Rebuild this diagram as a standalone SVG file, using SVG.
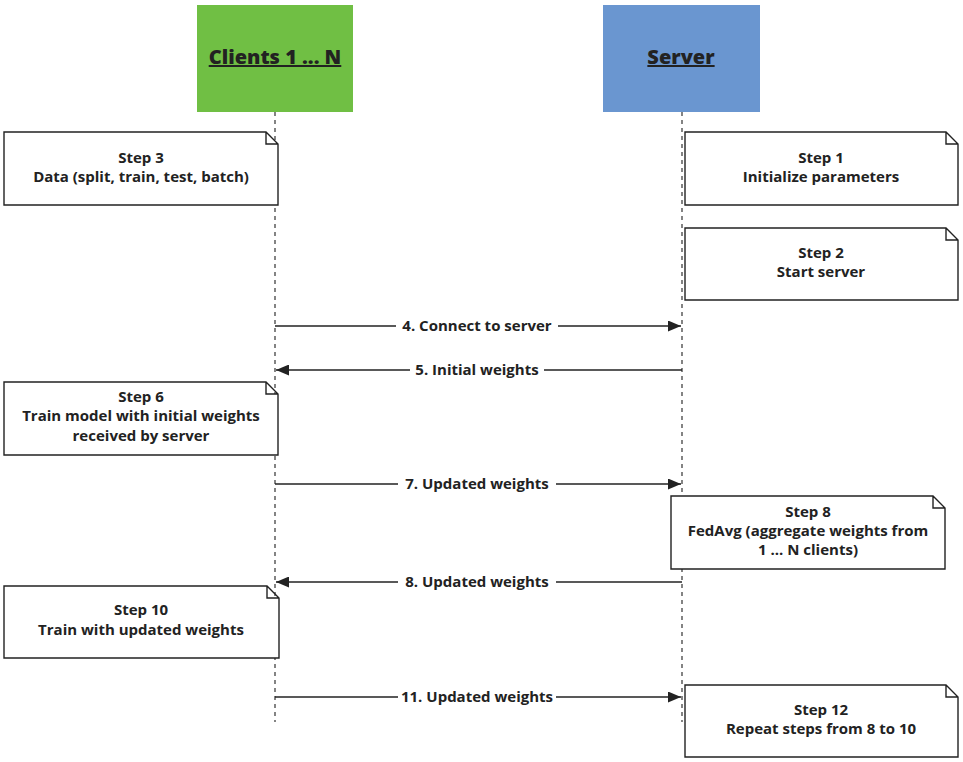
<svg xmlns="http://www.w3.org/2000/svg" width="963" height="762" viewBox="0 0 963 762">
<style>
.t{font-family:"Open Sans",Lato,"Liberation Sans",sans-serif;font-weight:bold;font-size:15px;fill:#222;text-anchor:middle}
.h{font-family:"Open Sans",Lato,"Liberation Sans",sans-serif;font-weight:800;font-size:20px;fill:#222;text-anchor:middle;text-decoration:underline}
.note{fill:#fff;stroke:#222;stroke-width:1.4}
.life{stroke:#333;stroke-width:1.2;stroke-dasharray:4 4;fill:none}
.msg{stroke:#222;stroke-width:1.5;fill:none}
.lbl{fill:#fff}
</style>
<defs>
<marker id="ah" viewBox="0 0 13 11" refX="13" refY="5.5" markerWidth="13" markerHeight="11" markerUnits="userSpaceOnUse" orient="auto">
<path d="M0,0 L13,5.5 L0,11 Z" fill="#222"/>
</marker>
</defs>
<rect width="963" height="762" fill="#fff"/>
<g id="lifelines">
<line class="life" x1="275" y1="112" x2="275" y2="722"/>
<line class="life" x1="682" y1="112" x2="682" y2="722"/>
</g>
<g id="clients">
<rect x="197" y="5" width="156" height="107" fill="#70bf44"/>
<text class="h" x="275" y="64">Clients 1 ... N</text>
</g>
<g id="server">
<rect x="603" y="5" width="157" height="107" fill="#6a96d0"/>
<text class="h" x="681" y="64">Server</text>
</g>
<g id="step3">
<path class="note" d="M4,132 H266 L278,144 V205 H4 Z M266,132 V144 H278"/>
<text class="t" x="141" y="163">Step 3</text>
<text class="t" x="141" y="182">Data (split, train, test, batch)</text>
</g>
<g id="step1">
<path class="note" d="M685,132 H946 L958,144 V205 H685 Z M946,132 V144 H958"/>
<text class="t" x="821" y="163">Step 1</text>
<text class="t" x="821" y="182">Initialize parameters</text>
</g>
<g id="step2">
<path class="note" d="M685,228 H946 L958,240 V300 H685 Z M946,228 V240 H958"/>
<text class="t" x="821" y="258">Step 2</text>
<text class="t" x="821" y="277">Start server</text>
</g>
<g id="step6">
<path class="note" d="M4,382 H266 L278,394 V455 H4 Z M266,382 V394 H278"/>
<text class="t" x="141" y="402">Step 6</text>
<text class="t" x="141" y="421">Train model with initial weights</text>
<text class="t" x="141" y="441">received by server</text>
</g>
<g id="step8">
<path class="note" d="M671,496 H933 L945,508 V569 H671 Z M933,496 V508 H945"/>
<text class="t" x="808" y="517">Step 8</text>
<text class="t" x="808" y="536">FedAvg (aggregate weights from</text>
<text class="t" x="808" y="555">1 ... N clients)</text>
</g>
<g id="step10">
<path class="note" d="M4,586 H267 L279,598 V658 H4 Z M267,586 V598 H279"/>
<text class="t" x="141" y="615">Step 10</text>
<text class="t" x="141" y="635">Train with updated weights</text>
</g>
<g id="step12">
<path class="note" d="M685,685 H946 L958,697 V757 H685 Z M946,685 V697 H958"/>
<text class="t" x="821" y="715">Step 12</text>
<text class="t" x="821" y="734">Repeat steps from 8 to 10</text>
</g>
<g id="connectors">
<line class="msg" x1="275" y1="326" x2="681" y2="326" marker-end="url(#ah)"/>
<rect class="lbl" x="396" y="316" width="162" height="20"/>
<text class="t" x="477" y="331">4. Connect to server</text>
<line class="msg" x1="682" y1="370" x2="276" y2="370" marker-end="url(#ah)"/>
<rect class="lbl" x="410" y="360" width="134" height="20"/>
<text class="t" x="477" y="375">5. Initial weights</text>
<line class="msg" x1="275" y1="484" x2="681" y2="484" marker-end="url(#ah)"/>
<rect class="lbl" x="398" y="474" width="158" height="20"/>
<text class="t" x="477" y="489">7. Updated weights</text>
<line class="msg" x1="682" y1="582" x2="276" y2="582" marker-end="url(#ah)"/>
<rect class="lbl" x="398" y="572" width="158" height="20"/>
<text class="t" x="477" y="587">8. Updated weights</text>
<line class="msg" x1="275" y1="697" x2="681" y2="697" marker-end="url(#ah)"/>
<rect class="lbl" x="398" y="687" width="158" height="20"/>
<text class="t" x="477" y="702">11. Updated weights</text>
</g>
</svg>
